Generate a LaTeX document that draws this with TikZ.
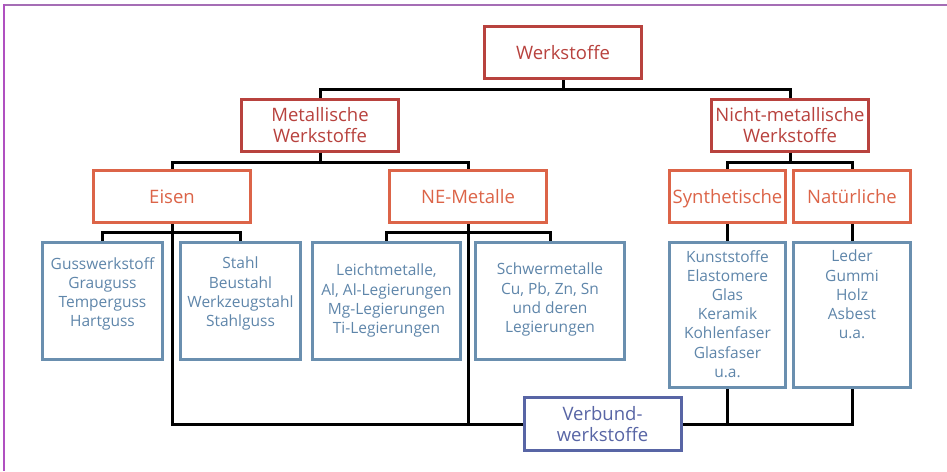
\documentclass[tikz,border=0pt]{standalone}
\usepackage{fontspec}
\setmainfont{Open Sans}
\definecolor{topred}{HTML}{B8423E}
\definecolor{midred}{HTML}{DC6448}
\definecolor{leafblue}{HTML}{6A8FAF}
\definecolor{leaftxt}{HTML}{5F86AA}
\definecolor{verbblue}{HTML}{5865A5}
\definecolor{frameA}{HTML}{A56DB5}
\definecolor{frameB}{HTML}{B050C0}
\begin{document}
\begin{tikzpicture}[x=1pt,y=-1pt,
  topbox/.style={draw=topred, text=topred, line width=3pt, fill=white,
    minimum width=157pt, minimum height=52pt, align=center, inner sep=0pt,
    font=\fontsize{18.5}{21.7}\selectfont},
  midbox/.style={topbox, draw=midred, text=midred, text depth=0pt},
  leafbox/.style={draw=leafblue, line width=3pt, inner sep=0pt, fill=white},
  leaftext/.style={text=leaftxt, align=center, inner sep=0pt, anchor=north,
    font=\fontsize{15.5}{19.2}\selectfont},
  verbbox/.style={topbox, draw=verbblue, text=verbblue},
  conn/.style={line width=3pt, line join=miter, draw=black}]
\useasboundingbox (0,0) rectangle (947,471);
\draw[frameA, line width=2pt] (3,5) -- (947,5);
\draw[frameB, line width=1.4pt] (4,4) -- (4,471);

% top levels
\node[topbox] (W) at (563,52.5) {Werkstoffe};
\node[topbox] (M) at (320,125) {Metallische\\Werkstoffe};
\node[topbox] (N) at (790,125) {Nicht-metallische\\Werkstoffe};
\node[midbox] (E) at (172,196.5) {Eisen};
\node[midbox] (NE) at (468,196.5) {NE-Metalle};
\node[midbox, minimum width=116pt] (S) at (727.5,196.5) {Synthetische};
\node[midbox, minimum width=117pt] (Na) at (852,196.5) {Natürliche};

% leaves
\node[leafbox, minimum width=120pt, minimum height=117pt] (G) at (102.5,301) {};
\node[leafbox, minimum width=120pt, minimum height=117pt] (St) at (240.5,301) {};
\node[leafbox, minimum width=148pt, minimum height=117pt] (L) at (386.5,301) {};
\node[leafbox, minimum width=149pt, minimum height=117pt] (Sw) at (550,301) {};
\node[leafbox, minimum width=116pt, minimum height=145pt] (K) at (727.5,315) {};
\node[leafbox, minimum width=117pt, minimum height=145pt] (Le) at (852,315) {};

\node[leaftext] (GT) at ([yshift=-16pt]G.north) {Gusswerkstoff\\Grauguss\\Temperguss\\Hartguss};
\node[leaftext] (StT) at ([yshift=-16pt]St.north) {Stahl\\Beustahl\\Werkzeugstahl\\Stahlguss};
\node[leaftext] (LT) at ([yshift=-23pt]L.north) {Leichtmetalle,\\Al, Al-Legierungen\\Mg-Legierungen\\Ti-Legierungen};
\node[leaftext] (SwT) at ([yshift=-22pt]Sw.north) {Schwermetalle\\Cu, Pb, Zn, Sn\\und deren\\Legierungen};
\node[leaftext] (KT) at ([yshift=-9pt]K.north) {Kunststoffe\\Elastomere\\Glas\\Keramik\\Kohlenfaser\\Glasfaser\\u.a.};
\node[leaftext] (LeT) at ([yshift=-9pt]Le.north) {Leder\\Gummi\\Holz\\Asbest\\u.a.};

\node[verbbox, minimum width=157pt, minimum height=53pt] (V) at (602.5,424) {Verbund-\\werkstoffe};

% connectors
\draw[conn] (W.south) -- ++(0,9) -| (M.north);
\draw[conn] (W.south) -- ++(0,9) -| (N.north);
\draw[conn] (M.south) -- ++(0,10) -| (E.north);
\draw[conn] (M.south) -- ++(0,10) -| (NE.north);
\draw[conn] (N.south) -- ++(0,10) -| (S.north);
\draw[conn] (N.south) -- ++(0,10) -| (Na.north);
\draw[conn] (E.south) -- ++(0,8) -| (G.north);
\draw[conn] (E.south) -- ++(0,8) -| (St.north);
\draw[conn] (NE.south) -- ++(0,8) -| (L.north);
\draw[conn] (NE.south) -- ++(0,8) -| (Sw.north);
\draw[conn] (S.south) -- (K.north);
\draw[conn] (Na.south) -- (Le.north);
\draw[conn] (E.south) |- (V.west);
\draw[conn] (NE.south) -- (NE.south |- V.west);
\draw[conn] (K.south) |- (V.east);
\draw[conn] (Le.south) |- (V.east);
\end{tikzpicture}
\end{document}
